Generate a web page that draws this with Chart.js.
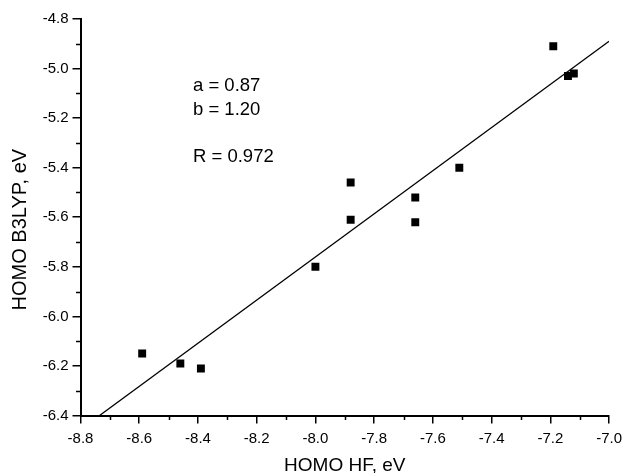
<!DOCTYPE html>
<html>
<head>
<meta charset="utf-8">
<script src="https://cdn.jsdelivr.net/npm/chart.js@4"></script>
<style>
html,body{margin:0;padding:0;background:#fff;}
#wrap{width:628px;height:473px;}
</style>
</head>
<body>
<div id="wrap"><canvas id="c" width="628" height="473"></canvas></div>
<script>
// Data
const hfEnergies   = [-8.59, -8.46, -8.39, -8.00, -7.88, -7.88, -7.66, -7.66, -7.51, -7.19, -7.14, -7.12];
const b3lypEnergies = [-6.15, -6.19, -6.21, -5.80, -5.46, -5.61, -5.52, -5.62, -5.40, -4.91, -5.03, -5.02];
const fitX = [-8.735, -7.0];
const fitY = [-6.40, -4.89];
const xTitle = 'HOMO HF, eV';
const yTitle = 'HOMO B3LYP, eV';
const annotLines = ['a = 0.87', 'b = 1.20', 'R = 0.972'];
const annotX = -8.417;
const annotY = [-5.07, -5.165, -5.355];

const FONT = '"Liberation Sans", Arial, Helvetica, sans-serif';

const minorTicks = {
  id: 'minorTicks',
  afterDraw(chart) {
    const ctx = chart.ctx;
    ctx.save();
    ctx.strokeStyle = '#000';
    ctx.lineWidth = 1.5;
    const xs = chart.scales.x, ys = chart.scales.y;
    const xt = xs.ticks.map(t => t.value), yt = ys.ticks.map(t => t.value);
    for (let i = 0; i < xt.length - 1; i++) {
      const px = Math.round(xs.getPixelForValue((xt[i] + xt[i+1]) / 2)) + 0.5;
      ctx.beginPath(); ctx.moveTo(px, xs.top); ctx.lineTo(px, xs.top + 4.5); ctx.stroke();
    }
    for (let i = 0; i < yt.length - 1; i++) {
      const py = Math.round(ys.getPixelForValue((yt[i] + yt[i+1]) / 2)) + 0.5;
      ctx.beginPath(); ctx.moveTo(ys.right, py); ctx.lineTo(ys.right - 4.5, py); ctx.stroke();
    }
    // annotation text
    ctx.fillStyle = '#000';
    ctx.font = '18.5px ' + FONT;
    ctx.textAlign = 'left';
    ctx.textBaseline = 'middle';
    annotLines.forEach((s, i) => {
      ctx.fillText(s, xs.getPixelForValue(annotX), ys.getPixelForValue(annotY[i]));
    });
    // y axis title, centred where the reference puts it
    ctx.save();
    ctx.font = '20px ' + FONT;
    ctx.textAlign = 'center';
    ctx.textBaseline = 'middle';
    ctx.translate(20, ys.getPixelForValue(-5.65));
    ctx.rotate(-Math.PI / 2);
    ctx.fillText(yTitle, 0, 0);
    ctx.restore();
    ctx.restore();
  }
};

new Chart(document.getElementById('c'), {
  type: 'scatter',
  data: {
    datasets: [
      {
        label: 'points',
        data: hfEnergies.map((x, i) => ({x: x, y: b3lypEnergies[i]})),
        pointStyle: 'rect',
        pointRadius: 5.6,
        pointBackgroundColor: '#000',
        pointBorderColor: '#000',
        pointBorderWidth: 0,
        showLine: false
      },
      {
        label: 'fit',
        data: fitX.map((x, i) => ({x: x, y: fitY[i]})),
        showLine: true,
        borderColor: '#000',
        borderWidth: 1.3,
        pointRadius: 0,
        fill: false
      }
    ]
  },
  options: {
    responsive: false,
    animation: false,
    devicePixelRatio: 1,
    layout: { padding: { top: 19, right: 17, left: 0, bottom: 0 } },
    plugins: { legend: { display: false }, tooltip: { enabled: false } },
    scales: {
      x: {
        type: 'linear',
        min: -8.8, max: -7.0,
        afterFit(s) { s.height = 57.5; },
        border: { display: true, color: '#000', width: 2 },
        grid: { display: true, drawOnChartArea: false, drawTicks: true, tickLength: 8, color: '#000', lineWidth: 1.5 },
        ticks: {
          stepSize: 0.2, color: '#000', padding: 6,
          font: { family: FONT, size: 15 },
          maxRotation: 0,
          callback: v => v.toFixed(1)
        },
        title: { display: true, text: xTitle, color: '#000', font: { family: FONT, size: 19, lineHeight: 1 }, padding: { top: 0, bottom: -2 } }
      },
      y: {
        type: 'linear',
        min: -6.4, max: -4.8,
        afterFit(s) { s.width = 80.5; },
        border: { display: true, color: '#000', width: 2 },
        grid: { display: true, drawOnChartArea: false, drawTicks: true, tickLength: 8, color: '#000', lineWidth: 1.5 },
        ticks: {
          stepSize: 0.2, color: '#000', padding: 4,
          font: { family: FONT, size: 15 },
          callback: v => v.toFixed(1)
        },
        title: { display: false, text: yTitle }
      }
    }
  },
  plugins: [minorTicks]
});
</script>
</body>
</html>
